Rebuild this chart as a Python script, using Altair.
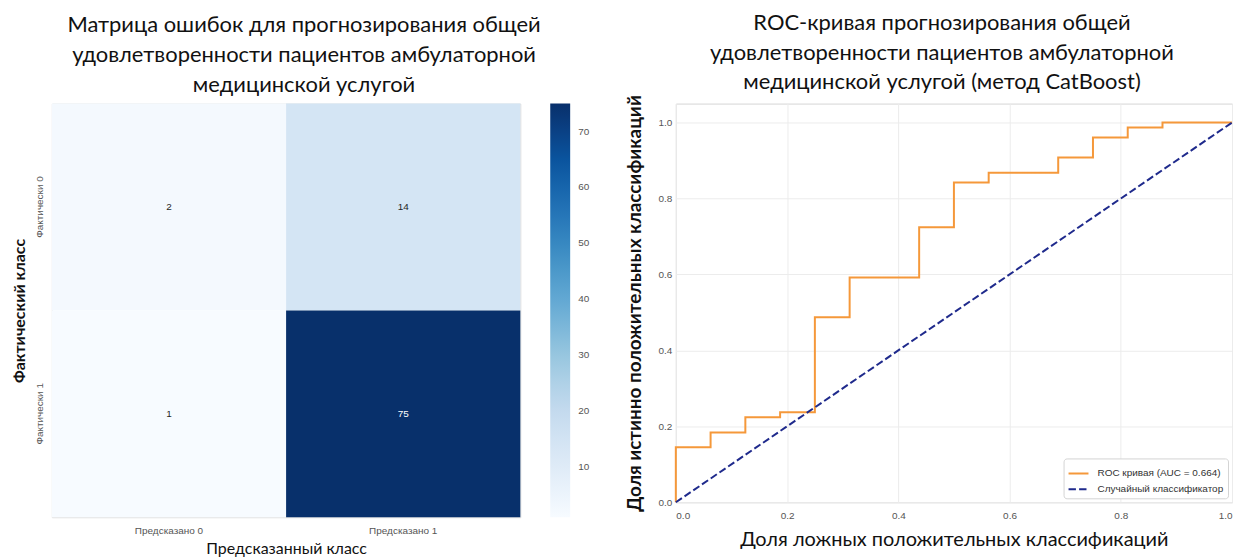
import altair as alt
import pandas as pd

TITLE_FONT = "Lato"
TICK_FONT = "Liberation Sans"

# ---------------- data ----------------
actual = ["Фактически 0", "Фактически 0", "Фактически 1", "Фактически 1"]
predicted = ["Предсказано 0", "Предсказано 1", "Предсказано 0", "Предсказано 1"]
counts = [2, 14, 1, 75]

fpr = [0.0, 0.0, 0.0625, 0.0625, 0.125, 0.125, 0.1875, 0.1875, 0.25, 0.25,
       0.3125, 0.3125, 0.4375, 0.4375, 0.5, 0.5, 0.5625, 0.5625, 0.6875, 0.6875,
       0.75, 0.75, 0.8125, 0.8125, 0.875, 0.875, 1.0]
tpr = [0.0, 0.145, 0.145, 0.184, 0.184, 0.224, 0.224, 0.237, 0.237, 0.487,
       0.487, 0.592, 0.592, 0.724, 0.724, 0.842, 0.842, 0.868, 0.868, 0.908,
       0.908, 0.961, 0.961, 0.987, 0.987, 1.0, 1.0]
diag_x = [0.0, 1.0]
diag_y = [0.0, 1.0]

roc_name = "ROC кривая (AUC = 0.664)"
diag_name = "Случайный классификатор"

colorbar_ticks = [10, 20, 30, 40, 50, 60, 70]
roc_ticks = [0.0, 0.2, 0.4, 0.6, 0.8, 1.0]

# ---------------- heatmap ----------------
cm_df = pd.DataFrame({"actual": actual, "predicted": predicted, "count": counts})

blues = ["#f7fbff", "#deebf7", "#c6dbef", "#9ecae1", "#6baed6",
         "#4292c6", "#2171b5", "#08519c", "#08306b"]
vmin, vmax = 1, 75
stops = [vmin + i * (vmax - vmin) / (len(blues) - 1) for i in range(len(blues))]

x_heat = alt.X("predicted:N", scale=alt.Scale(paddingInner=0, paddingOuter=0),
               axis=alt.Axis(title="Предсказанный класс", labelAngle=0, ticks=False, domain=False,
                             labelFont=TICK_FONT, labelFontSize=10, labelColor="#555",
                             labelPadding=8, titleFont=TITLE_FONT, titleFontSize=16,
                             titleFontWeight="normal", titleColor="#111", titlePadding=5))
y_heat = alt.Y("actual:N", scale=alt.Scale(paddingInner=0, paddingOuter=0),
               axis=alt.Axis(title="Фактический класс", labelAngle=-90, labelAlign="center",
                             labelBaseline="bottom", ticks=False, domain=False,
                             labelFont=TICK_FONT, labelFontSize=10, labelColor="#555",
                             labelPadding=7, titleFont=TITLE_FONT, titleFontSize=16,
                             titleFontWeight="bold", titleColor="#111", titlePadding=7))

heat = alt.Chart(cm_df).mark_rect().encode(
    x=x_heat,
    y=y_heat,
    color=alt.Color("count:Q",
                    scale=alt.Scale(type="linear", domain=stops, range=blues),
                    legend=alt.Legend(title=None, orient="right", offset=30, padding=0,
                                      direction="vertical", gradientLength=415,
                                      gradientThickness=20, gradientStrokeWidth=0,
                                      values=colorbar_ticks, labelFont=TICK_FONT,
                                      labelFontSize=10, labelColor="#555", labelOffset=8)),
)

annot = alt.Chart(cm_df).mark_text(font=TICK_FONT, fontSize=10).encode(
    x=x_heat,
    y=y_heat,
    text="count:Q",
    color=alt.condition("datum.count > 40", alt.value("#ffffff"), alt.value("#262626")),
)

left = alt.layer(heat, annot).properties(
    width=470, height=415,
    title=alt.TitleParams(
        text=["Матрица ошибок для прогнозирования общей",
              "удовлетворенности пациентов амбулаторной",
              "медицинской услугой"],
        font=TITLE_FONT, fontSize=22, fontWeight="normal", lineHeight=30,
        anchor="middle", dx=18, offset=7, color="#111"),
)

# ---------------- ROC ----------------
roc_df = pd.DataFrame({"x": fpr, "y": tpr, "i": list(range(len(fpr))), "series": roc_name})
diag_df = pd.DataFrame({"x": diag_x, "y": diag_y, "i": [0, 1], "series": diag_name})
lines_df = pd.concat([roc_df, diag_df], ignore_index=True)

roc_legend = alt.Legend(title=None, orient="bottom-right", offset=4, fillColor="white",
                        strokeColor="#d4d4d4", cornerRadius=3, padding=4,
                        labelFont=TICK_FONT, labelFontSize=10, labelColor="#333",
                        symbolType="stroke", symbolSize=400, symbolStrokeWidth=2,
                        rowPadding=-10, labelOffset=8)

roc = alt.Chart(lines_df).mark_line(strokeWidth=2).encode(
    x=alt.X("x:Q", scale=alt.Scale(domain=[0, 1], nice=False, zero=False),
            axis=alt.Axis(title="Доля ложных положительных классификаций", values=roc_ticks,
                          format=".1f", ticks=False, domain=False, gridColor="#ececec",
                          labelFont=TICK_FONT, labelFontSize=10, labelColor="#555",
                          labelPadding=8, titleFont=TITLE_FONT, titleFontSize=20,
                          titleFontWeight="normal", titleColor="#111", titlePadding=9)),
    y=alt.Y("y:Q", scale=alt.Scale(domain=[0, 1.05], nice=False, zero=False),
            axis=alt.Axis(title="Доля истинно положительных классификаций", values=roc_ticks,
                          format=".1f", ticks=False, domain=False, gridColor="#ececec",
                          labelFont=TICK_FONT, labelFontSize=10, labelColor="#555",
                          labelPadding=4, titleFont=TITLE_FONT, titleFontSize=19,
                          titleFontWeight="bold", titleColor="#111", titlePadding=14)),
    color=alt.Color("series:N",
                    scale=alt.Scale(domain=[roc_name, diag_name], range=["#f5983a", "#1f2a8c"]),
                    legend=roc_legend),
    strokeDash=alt.StrokeDash("series:N",
                              scale=alt.Scale(domain=[roc_name, diag_name],
                                              range=[[1, 0], [7.4, 3.2]]),
                              legend=roc_legend),
    order="i:Q",
).properties(
    width=558, height=400,
    view=alt.ViewBackground(stroke="#d6d6d6", strokeWidth=1),
    title=alt.TitleParams(
        text=["ROC-кривая прогнозирования общей",
              "удовлетворенности пациентов амбулаторной",
              "медицинской услугой (метод CatBoost)"],
        font=TITLE_FONT, fontSize=22, fontWeight="normal", lineHeight=30,
        anchor="middle", dx=-12, dy=7, offset=7, color="#111"),
)

chart = alt.hconcat(left, roc, spacing=33).resolve_scale(
    color="independent", strokeDash="independent"
).resolve_legend(
    color="independent", strokeDash="independent"
).properties(
    padding={"top": 2, "left": 3, "right": 0, "bottom": 0}
).configure_view(
    strokeWidth=0
).configure(background="white")

chart.save("out.html", embed_options={"renderer": "svg", "actions": False})
